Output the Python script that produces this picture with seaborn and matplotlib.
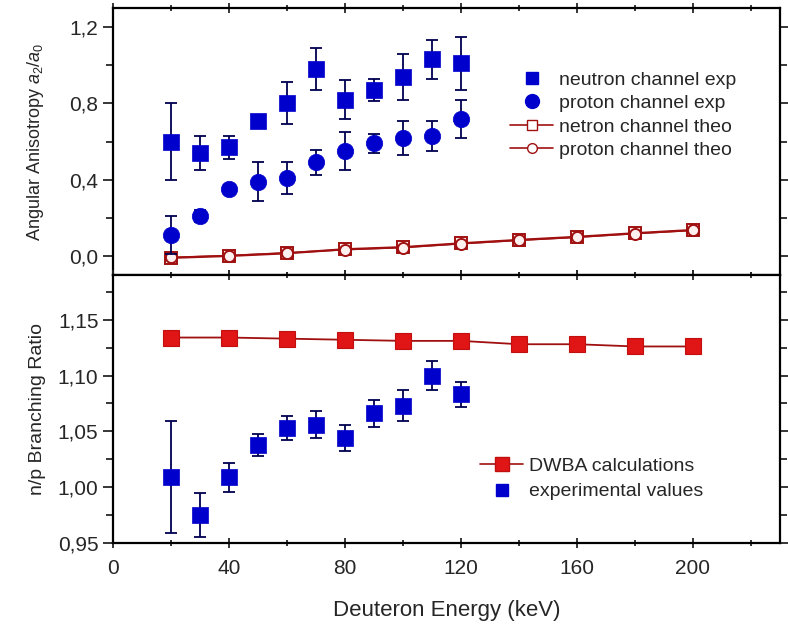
import numpy as np
import pandas as pd
import matplotlib
matplotlib.use("Agg")
import matplotlib.pyplot as plt
import seaborn as sns
from matplotlib.lines import Line2D

# ---------------- data ----------------
exp_energy = [20, 30, 40, 50, 60, 70, 80, 90, 100, 110, 120]
neutron_exp = [0.60, 0.54, 0.57, 0.71, 0.80, 0.98, 0.82, 0.87, 0.94, 1.03, 1.01]
neutron_err = [0.20, 0.09, 0.06, 0.03, 0.11, 0.11, 0.10, 0.06, 0.12, 0.10, 0.14]
proton_exp = [0.11, 0.21, 0.35, 0.39, 0.41, 0.49, 0.55, 0.59, 0.62, 0.63, 0.72]
proton_err = [0.10, 0.03, 0.02, 0.10, 0.085, 0.065, 0.10, 0.05, 0.09, 0.08, 0.10]

theo_energy = [20, 40, 60, 80, 100, 120, 140, 160, 180, 200]
neutron_theo = [-0.010, 0.000, 0.014, 0.035, 0.046, 0.066, 0.084, 0.100, 0.119, 0.136]
proton_theo = [-0.008, 0.002, 0.016, 0.033, 0.044, 0.064, 0.082, 0.098, 0.117, 0.134]

ratio_exp = [1.009, 0.975, 1.009, 1.038, 1.053, 1.056, 1.044, 1.066, 1.073, 1.100, 1.083]
ratio_err = [0.050, 0.020, 0.013, 0.010, 0.011, 0.012, 0.012, 0.012, 0.014, 0.013, 0.011]
dwba_energy = [20, 40, 60, 80, 100, 120, 140, 160, 180, 200]
dwba_ratio = [1.134, 1.134, 1.133, 1.132, 1.131, 1.131, 1.128, 1.128, 1.126, 1.126]

x_ticks = [0, 40, 80, 120, 160, 200]
x_ticklabels = ["0", "40", "80", "120", "160", "200"]
top_yticks = [0.0, 0.4, 0.8, 1.2]
top_yticklabels = ["0,0", "0,4", "0,8", "1,2"]
bot_yticks = [0.95, 1.00, 1.05, 1.10, 1.15]
bot_yticklabels = ["0,95", "1,00", "1,05", "1,10", "1,15"]

# ---------------- style ----------------
sns.set_style("ticks")
plt.rcParams['font.family'] = ['Liberation Sans', 'DejaVu Sans']
plt.rcParams['mathtext.fontset'] = 'custom'
plt.rcParams['mathtext.rm'] = 'Liberation Sans'
plt.rcParams['mathtext.it'] = 'Liberation Sans:italic'

BLUE = "#0000cc"
NAVY = "#000050"
DRED = "#a01010"
RED = "#e01515"

fig = plt.figure(figsize=(7.88, 6.30), dpi=100)
ax1 = fig.add_axes([113/788, 1-275/630, 667/788, 267/630])
ax2 = fig.add_axes([113/788, 1-543/630, 667/788, 268/630])

df_exp = pd.DataFrame({"E": exp_energy, "n": neutron_exp, "p": proton_exp,
                       "r": ratio_exp})
df_theo = pd.DataFrame({"E": theo_energy, "n": neutron_theo, "p": proton_theo})
df_dwba = pd.DataFrame({"E": dwba_energy, "r": dwba_ratio})

# ---- top panel ----
sns.lineplot(data=df_theo, x="E", y="n", ax=ax1, color=DRED, lw=1.6,
             marker="s", markersize=8, markerfacecolor="#fff0f0",
             markeredgecolor=DRED, markeredgewidth=1.4, zorder=2)
sns.lineplot(data=df_theo, x="E", y="p", ax=ax1, color=DRED, lw=1.2,
             marker="o", markersize=8, markerfacecolor="#fff0f0",
             markeredgecolor=DRED, markeredgewidth=1.4, zorder=2)
ax1.errorbar(exp_energy, neutron_exp, yerr=neutron_err, fmt="none",
             ecolor=NAVY, elinewidth=1.3, capsize=4, capthick=1.3, zorder=3)
ax1.errorbar(exp_energy, proton_exp, yerr=proton_err, fmt="none",
             ecolor=NAVY, elinewidth=1.3, capsize=4, capthick=1.3, zorder=3)
sns.scatterplot(data=df_exp, x="E", y="n", ax=ax1, marker="s", s=120,
                color=BLUE, edgecolor=BLUE, linewidth=0.5, zorder=4)
sns.scatterplot(data=df_exp, x="E", y="p", ax=ax1, marker="o", s=140,
                color=BLUE, edgecolor=BLUE, linewidth=0.5, zorder=4)

ax1.set_xlim(0, 230)
ax1.set_ylim(-0.1, 1.3)
ax1.set_yticks(top_yticks)
ax1.set_yticklabels(top_yticklabels)
ax1.set_yticks(np.arange(-0.0, 1.3, 0.2), minor=True)
ax1.set_xticks(x_ticks)
ax1.set_xticks(np.arange(0, 230, 20), minor=True)
ax1.tick_params(axis="x", labelbottom=False)
ax1.set_xlabel("")
ax1.set_ylabel(r"Angular Anisotropy $a_2/a_0$", fontsize=13)

leg_handles1 = [
    Line2D([], [], ls="none", marker="s", color=BLUE, markersize=9),
    Line2D([], [], ls="none", marker="o", color=BLUE, markersize=10),
    Line2D([], [], color=DRED, lw=1.2, marker="s", markersize=7,
           markerfacecolor="white", markeredgecolor=DRED),
    Line2D([], [], color=DRED, lw=1.2, marker="o", markersize=7,
           markerfacecolor="white", markeredgecolor=DRED),
]
ax1.legend(leg_handles1, ["neutron channel exp", "proton channel exp",
                          "netron channel theo", "proton channel theo"],
           loc="upper left", bbox_to_anchor=(0.575, 0.815), frameon=False,
           fontsize=14, handlelength=2.2, handletextpad=0.3,
           labelspacing=0.3, borderpad=0.2)

# ---- bottom panel ----
sns.lineplot(data=df_dwba, x="E", y="r", ax=ax2, color=DRED, lw=1.3,
             marker="s", markersize=11, markerfacecolor=RED,
             markeredgecolor="#c01010", markeredgewidth=0.8, zorder=2)
ax2.errorbar(exp_energy, ratio_exp, yerr=ratio_err, fmt="none",
             ecolor=NAVY, elinewidth=1.3, capsize=4, capthick=1.3, zorder=3)
sns.scatterplot(data=df_exp, x="E", y="r", ax=ax2, marker="s", s=120,
                color=BLUE, edgecolor=BLUE, linewidth=0.5, zorder=4)

ax2.set_xlim(0, 230)
ax2.set_ylim(0.95, 1.19)
ax2.set_yticks(bot_yticks)
ax2.set_yticklabels(bot_yticklabels)
ax2.set_yticks(np.arange(0.95, 1.19, 0.025), minor=True)
ax2.set_xticks(x_ticks)
ax2.set_xticklabels(x_ticklabels)
ax2.set_xticks(np.arange(0, 230, 20), minor=True)
ax2.set_xlabel("Deuteron Energy (keV)", fontsize=16, labelpad=16)
ax2.set_ylabel("n/p Branching Ratio", fontsize=14)

leg_handles2 = [
    Line2D([], [], color=DRED, lw=1.2, marker="s", markersize=10,
           markerfacecolor=RED, markeredgecolor="#c01010"),
    Line2D([], [], ls="none", marker="s", color=BLUE, markersize=9),
]
ax2.legend(leg_handles2, ["DWBA calculations", "experimental values"],
           loc="upper left", bbox_to_anchor=(0.53, 0.37), frameon=False,
           fontsize=14, handlelength=2.2, handletextpad=0.3,
           labelspacing=0.4, borderpad=0.2)

for ax in (ax1, ax2):
    for sp in ax.spines.values():
        sp.set_visible(True)
        sp.set_linewidth(1.6)
        sp.set_color("black")
    ax.tick_params(which="both", direction="out", width=1.3, labelsize=15,
                   top=True, right=True)
    ax.tick_params(which="major", length=7)
    ax.tick_params(which="minor", length=5)
    ax.tick_params(axis="x", which="both", top=True, direction="inout", pad=8)
    ax.tick_params(axis="y", which="both", right=True)
    ax.yaxis.set_label_coords(-0.10, 0.5)

fig.savefig("out.png", dpi=100)
